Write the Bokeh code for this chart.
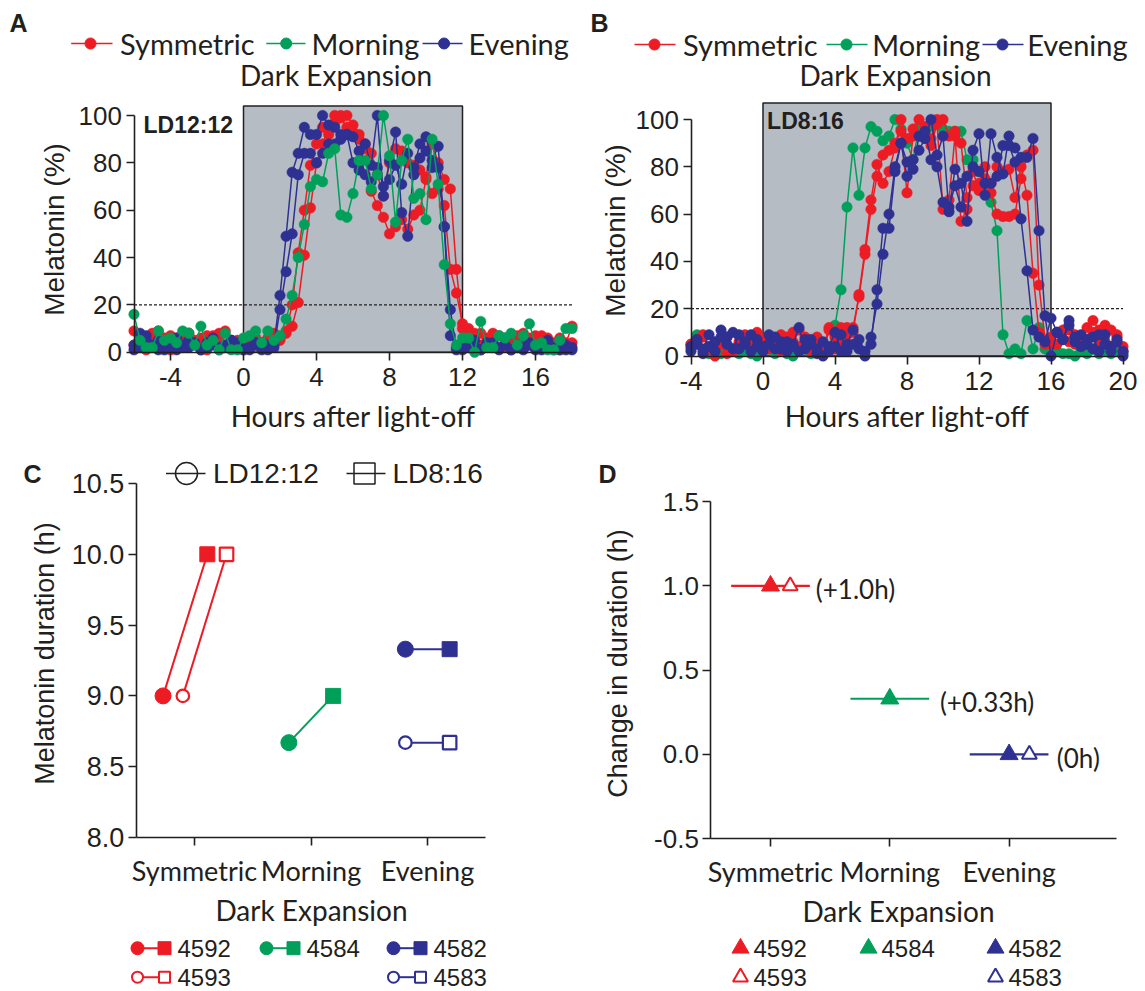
import numpy as np
from bokeh.plotting import figure
from bokeh.models import Range1d, LinearAxis, FixedTicker, NumeralTickFormatter
from bokeh.layouts import column, row
from bokeh.core.properties import value
from bokeh.embed import file_html
from bokeh.resources import INLINE

# ---------------------------------------------------------------- data
SAMPLE_H = 1 / 3          # 20-min sampling
A_START = -6              # LD12:12 record start (h after light-off)
B_START = -4              # LD8:16 record start

# Panel A (LD12:12) melatonin %, one value per sample
A_4592 = [9,4,1,8,3,6,7,2,5,8,4,6,1,7,8,3,5,2,
          1,3,6,2,4,7,
          5,8,11,21,41,61,80,88,95,97,100,100,
          96,92,88,68,62,57,50,53,56,52,58,60,
          73,67,69,62,35,25,
          12,10,8,3,6,8,2,5,4,7,3,6,
          7,2,6,3,1,4,11]
A_4593 = [3,7,2,5,9,4,1,6,3,8,5,2,7,4,6,9,3,5,
          4,2,5,3,6,8,
          6,9,20,42,60,79,88,95,92,100,99,95,
          93,90,86,84,75,66,80,86,85,80,79,77,
          74,88,80,73,69,35,
          10,6,4,8,3,5,7,2,6,4,8,3,
          5,7,2,4,6,3,4]
A_4584 = [16,5,2,2,9,5,6,4,9,8,3,11,3,5,1,8,1,1,
          6,7,9,4,9,5,
          7,14,24,40,54,70,73,72,84,86,58,57,
          67,81,81,69,75,100,83,55,81,90,65,67,
          56,90,71,37,12,3,
          6,6,0,13,2,2,7,6,8,3,7,12,
          3,4,1,1,5,10,10]
A_4582 = [3,8,7,2,5,1,4,6,2,5,3,1,4,6,2,3,5,4,
          2,1,3,4,1,3,
          24,49,76,84,95,92,92,100,96,95,90,92,
          80,77,88,79,100,66,81,93,59,49,78,88,
          91,81,87,53,18,1,
          3,2,5,1,3,4,2,6,1,3,2,4,
          1,3,5,2,1,3,1]
A_4583 = [1,2,5,3,1,4,2,1,3,2,4,1,2,3,1,2,5,3,
          1,2,4,1,3,2,
          18,34,50,75,84,84,80,84,88,88,92,92,
          91,85,75,72,78,70,73,79,71,84,75,82,
          85,78,78,53,7,2,
          1,3,2,1,4,2,1,3,1,2,1,3,
          2,1,4,1,2,1,2]

# Panel B (LD8:16)
B_4584 = [5,9,2,1,4,1,2,3,1,2,1,0,
          2,3,1,2,1,0,2,3,1,2,1,3,
          13,28,63,88,68,88,97,95,91,93,100,96,
          90,83,97,95,97,98,96,95,95,95,83,83,
          78,74,65,53,9,1,3,1,15,3,12,3,
          1,2,1,1,0,2,1,3,1,2,1,2,1]
B_4592 = [3,7,8,4,0,5,8,2,6,9,4,10,
          6,7,4,9,3,6,11,8,4,7,3,12,
          8,5,12,12,25,43,62,76,85,87,90,95,
          69,93,100,92,89,98,62,66,93,57,62,78,
          70,75,69,60,59,59,60,75,85,87,30,7,
          5,10,7,11,5,8,12,15,11,6,11,8,4]
B_4593 = [5,6,9,3,2,7,1,3,5,8,6,4,
          7,3,5,2,8,10,4,6,2,8,1,11,
          3,12,9,10,26,45,66,81,73,78,88,100,
          92,96,93,97,92,100,100,93,95,90,67,72,
          73,80,73,80,78,79,67,80,68,35,10,5,
          8,5,11,6,9,4,7,10,5,13,4,9,2]
B_4582 = [2,5,1,4,6,11,8,3,9,5,2,7,
          4,9,3,6,2,5,12,3,7,1,0,4,
          10,2,5,11,7,2,8,22,43,60,80,90,
          82,83,87,92,100,85,93,61,79,73,57,87,
          94,68,94,84,77,93,88,84,84,92,53,17,
          0,10,7,15,6,9,5,8,2,9,4,7,0]
B_4583 = [4,7,3,9,2,8,5,10,3,6,9,4,
          2,5,8,3,6,4,2,7,5,3,6,2,
          4,9,2,5,3,0,5,28,54,54,78,90,
          76,79,93,95,83,80,65,63,72,63,76,80,
          78,73,73,76,89,89,82,58,36,11,8,6,
          16,10,7,13,8,4,7,3,9,5,2,6,2]

A_DARK = (0, 12)
B_DARK = (0, 16)
THRESHOLD = 20
A_XTICKS = [-4, 0, 4, 8, 12, 16]
B_XTICKS = [-4, 0, 4, 8, 12, 16, 20]
MEL_TICKS = [0, 20, 40, 60, 80, 100]

CATEGORIES = ["Symmetric", "Morning", "Evening"]
ANIMALS = ["4592", "4593", "4584", "4582", "4583"]
ANIMAL_GROUP = [0, 0, 1, 2, 2]
ANIMAL_FILLED = [True, False, True, True, False]
DUR_LD12 = [9.0, 9.0, 8.67, 9.33, 8.67]
DUR_LD8 = [10.0, 10.0, 9.0, 9.33, 8.67]
CHANGE_LABELS = ["(+1.0h)", "(+0.33h)", "(0h)"]
C_TICKS = [8.0, 8.5, 9.0, 9.5, 10.0, 10.5]
D_TICKS = [-0.5, 0.0, 0.5, 1.0, 1.5]

for s in (A_4592, A_4593, A_4584, A_4582, A_4583, B_4584, B_4592, B_4593, B_4582, B_4583):
    assert len(s) == 73, len(s)

# ---------------------------------------------------------------- style
INK = "#231F20"
RED = "#ED1C24"
GREEN = "#00A05A"
BLUE = "#2E3192"
BOXFILL = "#B5BCC4"
GROUP_COLORS = [RED, GREEN, BLUE]
HELV = "Liberation Sans"
MYR = "Lato"

OFF_LD12 = [-0.27, -0.10, -0.19, -0.19, -0.19]
OFF_LD8 = [0.11, 0.275, 0.19, 0.19, 0.19]
D_OFF = [0.0, 0.165, 0.0, 0.0, 0.17]
D_LABEL_OFF = [0.38, 0.42, 0.40]


def make_fig(w, h, xpx, xval, xppu, ypx, yval, yppu):
    x0 = xval - xpx / xppu
    x1 = x0 + w / xppu
    y1 = yval + ypx / yppu
    y0 = y1 - h / yppu
    p = figure(width=w, height=h, x_range=Range1d(x0, x1), y_range=Range1d(y0, y1),
               output_backend="svg", toolbar_location=None,
               x_axis_type=None, y_axis_type=None, min_border=0)
    p.outline_line_color = None
    p.background_fill_color = "white"
    p.border_fill_color = "white"
    fx = lambda px: x0 + px / xppu
    fy = lambda py: y1 - py / yppu
    return p, fx, fy


def add_axis(p, side, loc, bounds, ticks, font, size, standoff, overrides=None, fmt=None):
    ax = LinearAxis(fixed_location=loc, bounds=bounds, ticker=FixedTicker(ticks=ticks),
                    axis_line_color=INK, axis_line_width=1.6,
                    major_tick_line_color=INK, major_tick_line_width=1.6,
                    major_tick_out=8, major_tick_in=0, minor_tick_line_color=None,
                    major_label_text_font=font, major_label_text_font_size=size,
                    major_label_text_color=INK, major_label_standoff=standoff)
    if fmt:
        ax.formatter = NumeralTickFormatter(format=fmt)
    if overrides is None:
        # plain hyphen-minus, as in the original figure
        overrides = {t: (("%g" % t).replace("\u2212", "-")) for t in ticks if t < 0}
        if fmt:
            overrides = {t: "%.1f" % t for t in ticks if t < 0}
    if overrides:
        ax.major_label_overrides = overrides
    p.add_layout(ax, side)


def txt(p, x, y, s, font, size, align="left", angle=0.0, bold=False, color=INK):
    p.text(x=[x], y=[y], text=[s], text_font=value(font), text_font_size=value(size),
           text_align=align, text_baseline="middle", angle=angle,
           text_font_style="bold" if bold else "normal", text_color=color)


def top_legend(p, fx, fy, items, ly):
    for (l0, l1, mx, tx, col, lab) in items:
        p.line([fx(l0), fx(l1)], [fy(ly), fy(ly)], line_color=col, line_width=1.5)
        p.scatter([fx(mx)], [fy(ly)], size=11, fill_color=col, line_color=col)
        txt(p, fx(tx), fy(ly), lab, MYR, "29px")


def timecourse(p, start, series, dark, box_top, x_end, ticks):
    p.quad(left=[dark[0]], right=[dark[1]], bottom=[0], top=[box_top],
           fill_color=BOXFILL, line_color=INK, line_width=1.5)
    p.line([start, x_end], [THRESHOLD, THRESHOLD], line_color=INK, line_width=1.3, line_dash="3 2")
    for vals, col in series:
        t = start + SAMPLE_H * np.arange(len(vals))
        p.line(t, vals, line_color=col, line_width=1.5)
        p.scatter(t, vals, size=10.5, fill_color=col, line_color=col, line_width=0.5)
    add_axis(p, "below", 0, (start, x_end), ticks, HELV, "26px", 8)
    add_axis(p, "left", start, (0, 100), MEL_TICKS, HELV, "26px", 4)


# ---------------------------------------------------------------- panel A
pA, fxA, fyA = make_fig(580, 440, 133.5, -6, 18.25, 351.7, 0, 2.367)
timecourse(pA, A_START, [(A_4592, RED), (A_4593, RED), (A_4582, BLUE), (A_4583, BLUE), (A_4584, GREEN)],
           A_DARK, 104, 18, A_XTICKS)
txt(pA, fxA(18), fyA(22), "A", HELV, "25px", align="center", bold=True)
top_legend(pA, fxA, fyA, [(70.7, 112, 90, 119.5, RED, CATEGORIES[0]),
                          (265.8, 305, 285.7, 311, GREEN, CATEGORIES[1]),
                          (422, 462, 443.6, 468, BLUE, CATEGORIES[2])], 43)
txt(pA, fxA(335.5), fyA(74), "Dark Expansion", MYR, "28px", align="center")
txt(pA, fxA(143), fyA(124), "LD12:12", HELV, "23px", bold=True)
txt(pA, fxA(54), fyA(229), "Melatonin (%)", HELV, "28px", align="center", angle=np.pi / 2)
txt(pA, fxA(352.5), fyA(415), "Hours after light-off", MYR, "28px", align="center")

# ---------------------------------------------------------------- panel B
pB, fxB, fyB = make_fig(565, 440, 182.5, 0, 18.0, 355.5, 0, 2.365)
timecourse(pB, B_START, [(B_4584, GREEN), (B_4592, RED), (B_4593, RED), (B_4582, BLUE), (B_4583, BLUE)],
           B_DARK, 107, 20, B_XTICKS)
txt(pB, fxB(19), fyB(22), "B", HELV, "25px", align="center", bold=True)
top_legend(pB, fxB, fyB, [(54, 95, 74, 102.5, RED, CATEGORIES[0]),
                          (246, 287, 266, 291.7, GREEN, CATEGORIES[1]),
                          (402, 443, 422, 446.7, BLUE, CATEGORIES[2])], 44)
txt(pB, fxB(315), fyB(74), "Dark Expansion", MYR, "28px", align="center")
txt(pB, fxB(186.6), fyB(120), "LD8:16", HELV, "23px", bold=True)
txt(pB, fxB(35), fyB(230), "Melatonin (%)", HELV, "28px", align="center", angle=np.pi / 2)
txt(pB, fxB(326.5), fyB(415), "Hours after light-off", MYR, "28px", align="center")

# ---------------------------------------------------------------- panel C
pC, fxC, fyC = make_fig(575, 551, 194, 1, 116.5, 397, 8.0, 141.6)
for i, a in enumerate(ANIMALS):
    g = ANIMAL_GROUP[i]
    col = GROUP_COLORS[g]
    x12 = g + 1 + OFF_LD12[i]
    x8 = g + 1 + OFF_LD8[i]
    pC.line([x12, x8], [DUR_LD12[i], DUR_LD8[i]], line_color=col, line_width=2)
    if ANIMAL_FILLED[i]:
        pC.scatter([x12], [DUR_LD12[i]], marker="circle", size=16, fill_color=col, line_color=col)
        pC.scatter([x8], [DUR_LD8[i]], marker="square", size=15, fill_color=col, line_color=col)
    else:
        pC.scatter([x12], [DUR_LD12[i]], marker="circle", size=12.5, fill_color="white", line_color=col, line_width=2.2)
        pC.scatter([x8], [DUR_LD8[i]], marker="square", size=13.5, fill_color="white", line_color=col, line_width=2.2)
add_axis(pC, "left", 0.5, (8.0, 10.5), C_TICKS, HELV, "27px", 4, fmt="0.0")
add_axis(pC, "below", 8.0, (0.5, 3.5), [1, 2, 3], MYR, "27px", 8,
         overrides={1: CATEGORIES[0], 2: CATEGORIES[1], 3: CATEGORIES[2]})
txt(pC, fxC(32), fyC(33), "C", HELV, "25px", align="center", bold=True)
txt(pC, fxC(44.5), fyC(213), "Melatonin duration (h)", HELV, "27px", align="center", angle=np.pi / 2)
txt(pC, fxC(311), fyC(469), "Dark Expansion", MYR, "28px", align="center")
# LD legend
LEG_Y = 33
pC.line([fxC(165.5), fxC(205)], [fyC(LEG_Y)] * 2, line_color=INK, line_width=1.5)
pC.scatter([fxC(186)], [fyC(LEG_Y)], marker="circle", size=22, fill_color=None, line_color=INK, line_width=1.5)
txt(pC, fxC(212.5), fyC(LEG_Y), "LD12:12", HELV, "28px")
pC.line([fxC(346), fxC(385)], [fyC(LEG_Y)] * 2, line_color=INK, line_width=1.5)
pC.scatter([fxC(364)], [fyC(LEG_Y)], marker="square", size=21, fill_color=None, line_color=INK, line_width=1.5)
txt(pC, fxC(392), fyC(LEG_Y), "LD8:16", HELV, "28px")
# animal legend
LEG_COL_X = [137, 266, 393]
LEG_ROW_Y = [507.7, 536.7]
seen = [0, 0, 0]
for i, a in enumerate(ANIMALS):
    g = ANIMAL_GROUP[i]
    col = GROUP_COLORS[g]
    r = seen[g]
    seen[g] += 1
    cx = LEG_COL_X[g]
    yy = fyC(LEG_ROW_Y[r])
    pC.line([fxC(cx), fxC(cx + 27)], [yy, yy], line_color=col, line_width=2)
    if ANIMAL_FILLED[i]:
        pC.scatter([fxC(cx)], [yy], marker="circle", size=13, fill_color=col, line_color=col)
        pC.scatter([fxC(cx + 27)], [yy], marker="square", size=13, fill_color=col, line_color=col)
    else:
        pC.scatter([fxC(cx)], [yy], marker="circle", size=11, fill_color="white", line_color=col, line_width=2)
        pC.scatter([fxC(cx + 27)], [yy], marker="square", size=11, fill_color="white", line_color=col, line_width=2)
    txt(pC, fxC(cx + 40), yy, a, HELV, "24px")

# ---------------------------------------------------------------- panel D
pD, fxD, fyD = make_fig(570, 551, 195, 1, 119.3, 61, 1.5, 168.6)
change = [round(DUR_LD8[i] - DUR_LD12[i], 2) for i in range(len(ANIMALS))]
for g in range(3):
    vals = [change[i] for i in range(len(ANIMALS)) if ANIMAL_GROUP[i] == g]
    m = float(np.mean(vals))
    pD.line([g + 1 - 0.33, g + 1 + 0.33], [m, m], line_color=GROUP_COLORS[g], line_width=2.2)
    txt(pD, g + 1 + D_LABEL_OFF[g], m - 0.02, CHANGE_LABELS[g], MYR, "26px")
for i, a in enumerate(ANIMALS):
    g = ANIMAL_GROUP[i]
    col = GROUP_COLORS[g]
    if ANIMAL_FILLED[i]:
        pD.scatter([g + 1 + D_OFF[i]], [change[i]], marker="triangle", size=18, fill_color=col, line_color=col)
    else:
        pD.scatter([g + 1 + D_OFF[i]], [change[i]], marker="triangle", size=15, fill_color="white", line_color=col, line_width=2)
add_axis(pD, "left", 0.5, (-0.5, 1.5), D_TICKS, HELV, "26px", 4, fmt="0.0")
add_axis(pD, "below", -0.5, (0.5, 3.9), [1, 2, 3], MYR, "27px", 8,
         overrides={1: CATEGORIES[0], 2: CATEGORIES[1], 3: CATEGORIES[2]})
txt(pD, fxD(32), fyD(33), "D", HELV, "25px", align="center", bold=True)
txt(pD, fxD(42), fyD(223), "Change in duration (h)", HELV, "27px", align="center", angle=np.pi / 2)
txt(pD, fxD(323), fyD(470), "Dark Expansion", MYR, "28px", align="center")
DLEG_COL_X = [165, 293, 420]
seen = [0, 0, 0]
for i, a in enumerate(ANIMALS):
    g = ANIMAL_GROUP[i]
    col = GROUP_COLORS[g]
    r = seen[g]
    seen[g] += 1
    yy = fyD(LEG_ROW_Y[r])
    cx = DLEG_COL_X[g]
    if ANIMAL_FILLED[i]:
        pD.scatter([fxD(cx)], [yy], marker="triangle", size=17, fill_color=col, line_color=col)
    else:
        pD.scatter([fxD(cx)], [yy], marker="triangle", size=15, fill_color="white", line_color=col, line_width=2)
    txt(pD, fxD(cx + 13), yy, a, HELV, "24px")

layout = column(row(pA, pB), row(pC, pD))
open("out.html", "w").write(file_html(layout, INLINE))
